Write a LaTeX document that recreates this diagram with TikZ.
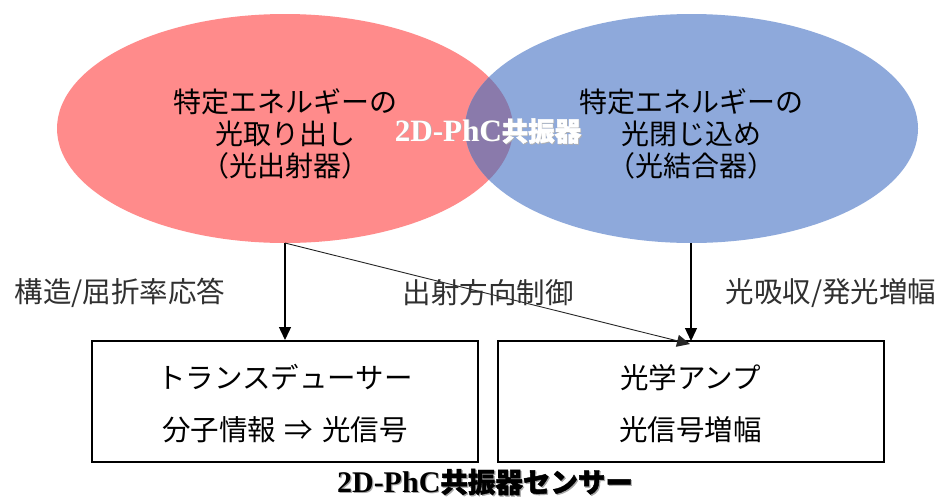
\documentclass[tikz,border=0pt]{standalone}
\usepackage{fontspec}
\setmainfont{Liberation Serif}
\newfontfamily\jp{Noto Sans CJK JP}
\newfontfamily\jpb[FakeBold=1.6]{Noto Sans CJK JP}
\usetikzlibrary{shapes.geometric,arrows.meta,calc}
\definecolor{pinkc}{HTML}{FF8B8B}
\definecolor{bluec}{HTML}{8EA9DB}
\definecolor{purplec}{HTML}{8A7AAB}
\definecolor{labc}{HTML}{303030}
\tikzset{
  blob/.style={ellipse, inner sep=0pt, minimum width=456pt, minimum height=229pt, align=center,
    font=\jp\fontsize{28}{32}\selectfont, text=black},
  boxn/.style={draw=black, line width=2pt, minimum width=386pt, minimum height=121pt, inner sep=0pt,
    align=center, font=\jp\fontsize{28.5}{52}\selectfont},
  lab/.style={font=\jp\fontsize{28.5}{30}\selectfont, text=labc, inner sep=0pt},
  arr/.style={line width=1.4pt, -{Triangle[width=12pt,length=13pt]}},
  thinarr/.style={line width=0.9pt, draw=black!85, -{Triangle[width=12pt,length=13pt]}}
}
\begin{document}
\begin{tikzpicture}[x=1pt,y=-1pt]
\useasboundingbox (0,0) rectangle (941,501);
\fill[white] (0,0) rectangle (941,501);
\node[blob, fill=pinkc] (L) at (285,128.5) {};
\node[blob, fill=bluec, minimum width=453pt] (R) at (691.5,128.5) {};
\begin{scope}
  \clip (285,128.5) ellipse [x radius=228, y radius=114.5];
  \fill[purplec] (691.5,128.5) ellipse [x radius=226.5, y radius=114.5];
\end{scope}
\node[blob, minimum width=0pt, minimum height=0pt] (Lt) at (285,134) {特定エネルギーの\\光取り出し\\（光出射器）};
\node[blob, minimum width=0pt, minimum height=0pt] (Rt) at (691.5,134) {特定エネルギーの\\光閉じ込め\\（光結合器）};
\node[text=black!30, inner sep=0pt, xshift=0.8pt, yshift=-0.8pt] (Cs) at (488,131)
  {\fontsize{31}{32}\selectfont\bfseries 2D-PhC{\jpb\fontsize{26.5}{32}\selectfont 共振器}};
\node[text=white, inner sep=0pt] (C) at (488,131)
  {\fontsize{31}{32}\selectfont\bfseries 2D-PhC{\jpb\fontsize{26.5}{32}\selectfont 共振器}};
\node[boxn] (B1) at (285,401.5) {};
\node[boxn] (B2) at (690.5,401.5) {};
\node[boxn, draw=none, minimum width=0pt, minimum height=0pt] (B1t) at (285,404) {トランスデューサー\\分子情報\hspace{9pt}⇒\hspace{9pt}光信号};
\node[boxn, draw=none, minimum width=0pt, minimum height=0pt] (B2t) at (690.5,404) {光学アンプ\\光信号増幅};
\coordinate (Ls) at (285,243);
\coordinate (Rs) at (691,243);
\draw[arr] (Ls) -- (B1.north);
\draw[arr] (Rs) -- (691,341);
\draw[thinarr] (Ls) -- (690,344);
\node[lab] (l1) at (120,293) {構造/屈折率応答};
\node[lab] (l2) at (488,293) {出射方向制御};
\node[lab] (l3) at (831,293) {光吸収/発光増幅};
\node[inner sep=0pt, text=black!35, xshift=1.2pt, yshift=-1.2pt] (Ts) at (485,482)
  {\fontsize{30}{32}\selectfont\bfseries 2D-PhC{\jpb\fontsize{27.5}{32}\selectfont 共振器センサー}};
\node[inner sep=0pt] (T) at (485,482)
  {\fontsize{30}{32}\selectfont\bfseries 2D-PhC{\jpb\fontsize{27.5}{32}\selectfont 共振器センサー}};
\end{tikzpicture}
\end{document}
